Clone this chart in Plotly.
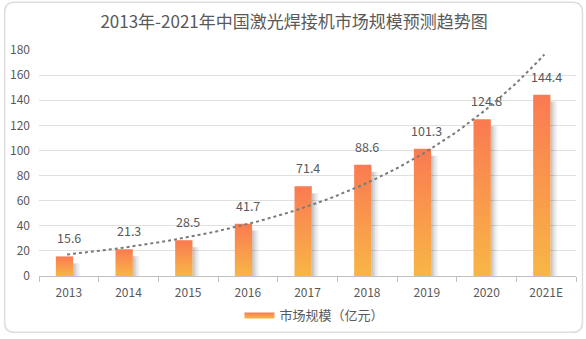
import numpy as np
import plotly.graph_objects as go

categories = ["2013", "2014", "2015", "2016", "2017", "2018", "2019", "2020", "2021E"]
values = [15.6, 21.3, 28.5, 41.7, 71.4, 88.6, 101.3, 124.8, 144.4]
y_ticks = [0, 20, 40, 60, 80, 100, 120, 140, 160, 180]
series_name = "市场规模（亿元）"
title = "2013年-2021年中国激光焊接机市场规模预测趋势图"

W, H = 586, 339
ML, MR, MT, MB = 36, 10, 50, 60
PW, PH = W - ML - MR, H - MT - MB
YMAX = 180

FONT = "Noto Sans CJK SC, Microsoft YaHei, sans-serif"
TXT = "#595959"
TOP_C = "#FA7A52"
BOT_C = "#F8B646"

BAR_OFF = -0.073
BAR_W = 0.29

fig = go.Figure()

# shadows
for i, v in enumerate(values):
    x0 = i + BAR_OFF + BAR_W / 2
    x1 = x0 + 0.13
    ytop = max(v - 5.5, 0)
    fig.add_trace(go.Scatter(
        x=[x0, x1, x1, x0, x0], y=[0, 0, ytop, ytop, 0],
        mode="lines", fill="toself", line=dict(width=0, color="rgba(0,0,0,0)"),
        fillgradient=dict(type="horizontal",
                          colorscale=[[0, "rgba(0,0,0,0.26)"], [0.5, "rgba(0,0,0,0.10)"],
                                      [1, "rgba(0,0,0,0)"]]),
        showlegend=False, hoverinfo="skip"))

# bars
for i, v in enumerate(values):
    xa = i + BAR_OFF - BAR_W / 2
    xb = i + BAR_OFF + BAR_W / 2
    fig.add_trace(go.Scatter(
        x=[xa, xb, xb, xa, xa], y=[0, 0, v, v, 0],
        mode="lines", fill="toself", line=dict(width=0, color="rgba(0,0,0,0)"),
        fillgradient=dict(type="vertical", colorscale=[[0, BOT_C], [1, TOP_C]]),
        name=series_name, legendgroup="bars", showlegend=(i == 0),
        hovertemplate=categories[i] + ": " + str(v) + "<extra></extra>"))

# exponential trendline fitted from the data
idx = np.arange(len(values))
b, a = np.polyfit(idx, np.log(values), 1)
tx = np.linspace(0, len(values) - 1, 80)
ty = np.exp(a + b * tx)
fig.add_trace(go.Scatter(x=tx - 0.03, y=ty, mode="lines",
                         line=dict(color="#7a7a7a", width=2, dash="dot"),
                         showlegend=False, hoverinfo="skip"))

for i, v in enumerate(values):
    fig.add_annotation(x=i, y=v, text=str(v), showarrow=False, yanchor="bottom",
                       yshift=7, font=dict(size=12.5, color=TXT, family=FONT))

def px_x(x):
    return (x - ML) / PW

def px_y(y):
    return (H - MB - y) / PH

# rounded border
l, r, t, bt, rad = 1.5, 582.5, 1.5, 336, 10
path = (f"M {px_x(l+rad)} {px_y(t)} L {px_x(r-rad)} {px_y(t)} "
        f"Q {px_x(r)} {px_y(t)} {px_x(r)} {px_y(t+rad)} "
        f"L {px_x(r)} {px_y(bt-rad)} Q {px_x(r)} {px_y(bt)} {px_x(r-rad)} {px_y(bt)} "
        f"L {px_x(l+rad)} {px_y(bt)} Q {px_x(l)} {px_y(bt)} {px_x(l)} {px_y(bt-rad)} "
        f"L {px_x(l)} {px_y(t+rad)} Q {px_x(l)} {px_y(t)} {px_x(l+rad)} {px_y(t)} Z")
fig.add_shape(type="path", path=path, xref="paper", yref="paper",
              line=dict(color="#dedede", width=1.5), layer="below")

fig.update_layout(
    width=W, height=H,
    margin=dict(l=ML, r=MR, t=MT, b=MB),
    paper_bgcolor="white", plot_bgcolor="white",
    font=dict(family=FONT, color=TXT, size=12),
    title=dict(text=title, x=px_x(307), xanchor="center", y=1 - 22 / H, yanchor="middle",
               font=dict(size=17, color=TXT, family=FONT)),
    xaxis=dict(range=[-0.5, len(categories) - 0.5], tickmode="array",
               tickvals=list(range(len(categories))), ticktext=categories,
               showgrid=False, zeroline=False, showline=True, linecolor="#bfbfbf",
               linewidth=1, ticks="", ticklabelstandoff=6, tickfont=dict(size=12, color=TXT),
               minor=dict(tick0=0.5, dtick=1, ticks="outside", ticklen=5,
                          tickcolor="#bfbfbf", showgrid=False),
               fixedrange=True),
    yaxis=dict(range=[0, YMAX], tickmode="array", tickvals=y_ticks,
               showgrid=True, gridcolor="#e0e0e0", gridwidth=1, zeroline=False,
               showline=False, ticks="", ticklabelstandoff=8,
               tickfont=dict(size=12, color=TXT), fixedrange=True),
    legend=dict(orientation="h", x=px_x(313), xanchor="center", y=px_y(318),
                yanchor="middle", font=dict(size=13, color=TXT, family=FONT),
                bgcolor="rgba(0,0,0,0)"),
    hovermode="closest",
)

fig.write_html("out.html")
